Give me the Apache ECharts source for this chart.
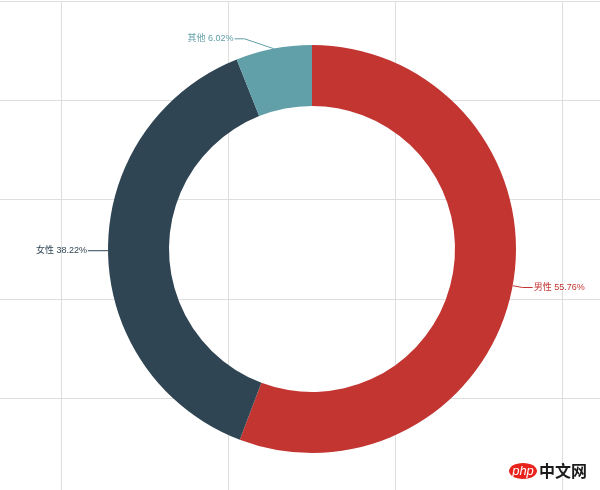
<!DOCTYPE html>
<html>
<head>
<meta charset="utf-8">
<script src="https://cdn.jsdelivr.net/npm/echarts@6/dist/echarts.min.js"></script>
<style>html,body{margin:0;padding:0;background:#fff;}#c{width:600px;height:490px;}</style>
</head>
<body>
<div id="c"></div>
<script>
var categories = ['男性', '女性', '其他'];
var values = [55.76, 38.22, 6.02];
var colors = ['#c23531', '#2f4554', '#61a0a8'];

var CX = 312, CY = 249, R_IN = 143, R_OUT = 204, LEN = 10, LEN2 = 10, GAP = 1;

var chart = echarts.init(document.getElementById('c'));
chart.setOption({
  animation: false,
  backgroundColor: '#fff',
  grid: { left: -106, top: 1, width: 835, height: 496.25, containLabel: false, outerBoundsMode: 'none' },
  xAxis: {
    type: 'value', min: 0, max: 5, interval: 1,
    axisLine: { show: false }, axisTick: { show: false }, axisLabel: { show: false },
    splitLine: { show: true, lineStyle: { color: '#dedede', width: 1 } }
  },
  yAxis: {
    type: 'value', min: 0, max: 5, interval: 1,
    axisLine: { show: false }, axisTick: { show: false }, axisLabel: { show: false },
    splitLine: { show: true, lineStyle: { color: '#dedede', width: 1 } }
  },
  series: [{
    type: 'pie',
    center: [CX, CY],
    radius: [R_IN, R_OUT],
    startAngle: 90,
    clockwise: true,
    avoidLabelOverlap: true,
    itemStyle: { borderWidth: 0 },
    label: {
      show: true,
      position: 'outside',
      formatter: '{b} {d}%',
      color: 'inherit',
      fontSize: 9,
      fontFamily: "'Liberation Sans', 'Noto Sans CJK SC', sans-serif"
    },
    labelLine: { show: true, length: LEN, length2: LEN2, smooth: false, lineStyle: { width: 1 } },
    labelLayout: function (p) {
      var pts = p.labelLinePoints;
      if (!pts || pts.length < 3) return {};
      var dir = pts[2][0] < pts[0][0] ? -1 : 1;
      var y = pts[1][1];
      var dy = Math.abs(y - CY);
      var Rt = R_OUT + LEN + LEN2;
      var dx = dy < R_OUT + LEN ? Math.sqrt(Rt * Rt - dy * dy) : Math.abs(pts[2][0] - CX);
      var x = CX + dir * dx;
      return {
        x: x + dir * GAP,
        y: y,
        align: dir < 0 ? 'right' : 'left',
        verticalAlign: 'middle',
        labelLinePoints: [pts[0].slice(), [x - dir * LEN2, y], [x, y]]
      };
    },
    data: categories.map(function (n, i) {
      return { name: n, value: values[i], itemStyle: { color: colors[i] } };
    })
  }],
  graphic: [
    { type: 'ellipse', shape: { cx: 523, cy: 471, rx: 14, ry: 8 }, style: { fill: '#e8231c' }, z: 100 },
    { type: 'text', x: 523, y: 471, z: 101, style: { text: 'php', fill: '#fff', font: 'italic 13px "Liberation Sans", sans-serif', align: 'center', verticalAlign: 'middle' } },
    { type: 'text', x: 539, y: 471, z: 101, style: { text: '中文网', fill: '#1a1a1a', font: 'bold 16px "Noto Sans CJK SC", sans-serif', align: 'left', verticalAlign: 'middle' } }
  ]
});
</script>
</body>
</html>
